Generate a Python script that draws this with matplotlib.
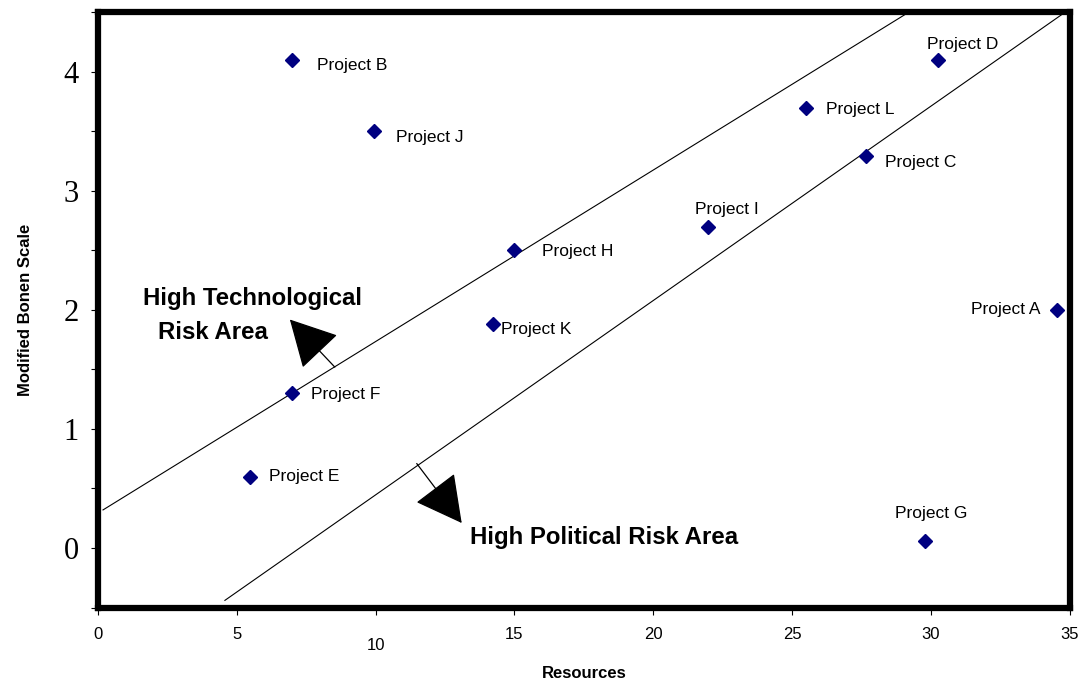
import matplotlib
matplotlib.use("Agg")
import matplotlib.pyplot as plt
from matplotlib.ticker import MultipleLocator

# ---- data ----
projects = ["Project A", "Project B", "Project C", "Project D", "Project E", "Project F",
            "Project G", "Project H", "Project I", "Project J", "Project K", "Project L"]
resources = [34.56, 6.98, 27.65, 30.24, 5.47, 6.98, 29.8, 14.98, 21.96, 9.94, 14.22, 25.49]
bonen = [2.00, 4.10, 3.29, 4.10, 0.60, 1.30, 0.06, 2.50, 2.70, 3.50, 1.88, 3.70]

tech_line_x = [0.18, 29.05]
tech_line_y = [0.32, 4.48]
pol_line_x = [4.57, 34.7]
pol_line_y = [-0.44, 4.48]

x_ticks = [0, 5, 10, 15, 20, 25, 30, 35]
y_ticks = [0, 1, 2, 3, 4]

# label placement: (dx, dy in points, ha, va)
label_pos = {
    "Project A": (-12, 0, "right", "center"),
    "Project B": (18, -4, "left", "center"),
    "Project C": (14, -4, "left", "center"),
    "Project D": (18, 6, "center", "bottom"),
    "Project E": (14, 0, "left", "center"),
    "Project F": (14, -1, "left", "center"),
    "Project G": (4, 14, "center", "bottom"),
    "Project H": (20, -1, "left", "center"),
    "Project I": (14, 7, "center", "bottom"),
    "Project J": (16, -4, "left", "center"),
    "Project K": (6, -4, "left", "center"),
    "Project L": (15, -1, "left", "center"),
}

fig = plt.figure(figsize=(10.82, 6.79), dpi=100)
ax = fig.add_axes([0.0906, 0.1053, 0.898, 0.8763])
ax.set_xlim(0, 35)
ax.set_ylim(-0.5, 4.5)

ax.plot(tech_line_x, tech_line_y, color="black", lw=0.8)
ax.plot(pol_line_x, pol_line_y, color="black", lw=0.8)

ax.plot(resources, bonen, linestyle="none", marker="D", markersize=7,
        color="#000080", markeredgecolor="#000080")

for name, xv, yv in zip(projects, resources, bonen):
    dx, dy, ha, va = label_pos[name]
    ax.annotate(name, (xv, yv), xytext=(dx, dy), textcoords="offset points",
                ha=ha, va=va, fontsize=12.5, family="Liberation Sans")

# arrows
ax.annotate("", xy=(6.91, 1.92), xytext=(8.53, 1.52),
            arrowprops=dict(arrowstyle="-|>,head_length=1.5,head_width=0.8",
                            mutation_scale=20, lw=0.9, color="black", shrinkA=0, shrinkB=0))
ax.annotate("", xy=(13.1, 0.21), xytext=(11.48, 0.71),
            arrowprops=dict(arrowstyle="-|>,head_length=1.5,head_width=0.8",
                            mutation_scale=20, lw=0.9, color="black", shrinkA=0, shrinkB=0))

ax.text(5.55, 2.1, "High Technological", ha="center", va="center",
        fontsize=17.3, fontweight="bold", family="Liberation Sans")
ax.text(4.15, 1.81, "Risk Area", ha="center", va="center",
        fontsize=17.3, fontweight="bold", family="Liberation Sans")
ax.text(13.4, 0.09, "High Political Risk Area", ha="left", va="center",
        fontsize=17.3, fontweight="bold", family="Liberation Sans")

for s in ax.spines.values():
    s.set_linewidth(4.5)

ax.set_xticks(x_ticks)
ax.set_xticklabels([str(v) for v in x_ticks], family="Liberation Sans", fontsize=12)
ax.set_yticks(y_ticks)
ax.set_yticklabels([str(v) for v in y_ticks], family="Liberation Serif", fontsize=22)
ax.yaxis.set_minor_locator(MultipleLocator(0.5))
ax.tick_params(axis="both", which="both", direction="out", length=5, width=0.8)
ax.tick_params(axis="x", pad=9)
ax.tick_params(axis="y", pad=9)
ax.xaxis.get_major_ticks()[2].set_pad(17)

ax.set_xlabel("Resources", fontsize=12, fontweight="bold", family="Liberation Sans", labelpad=9)
ax.set_ylabel("Modified Bonen Scale", fontsize=12, fontweight="bold", family="Liberation Sans", labelpad=22)

fig.savefig("out.png", dpi=100)
